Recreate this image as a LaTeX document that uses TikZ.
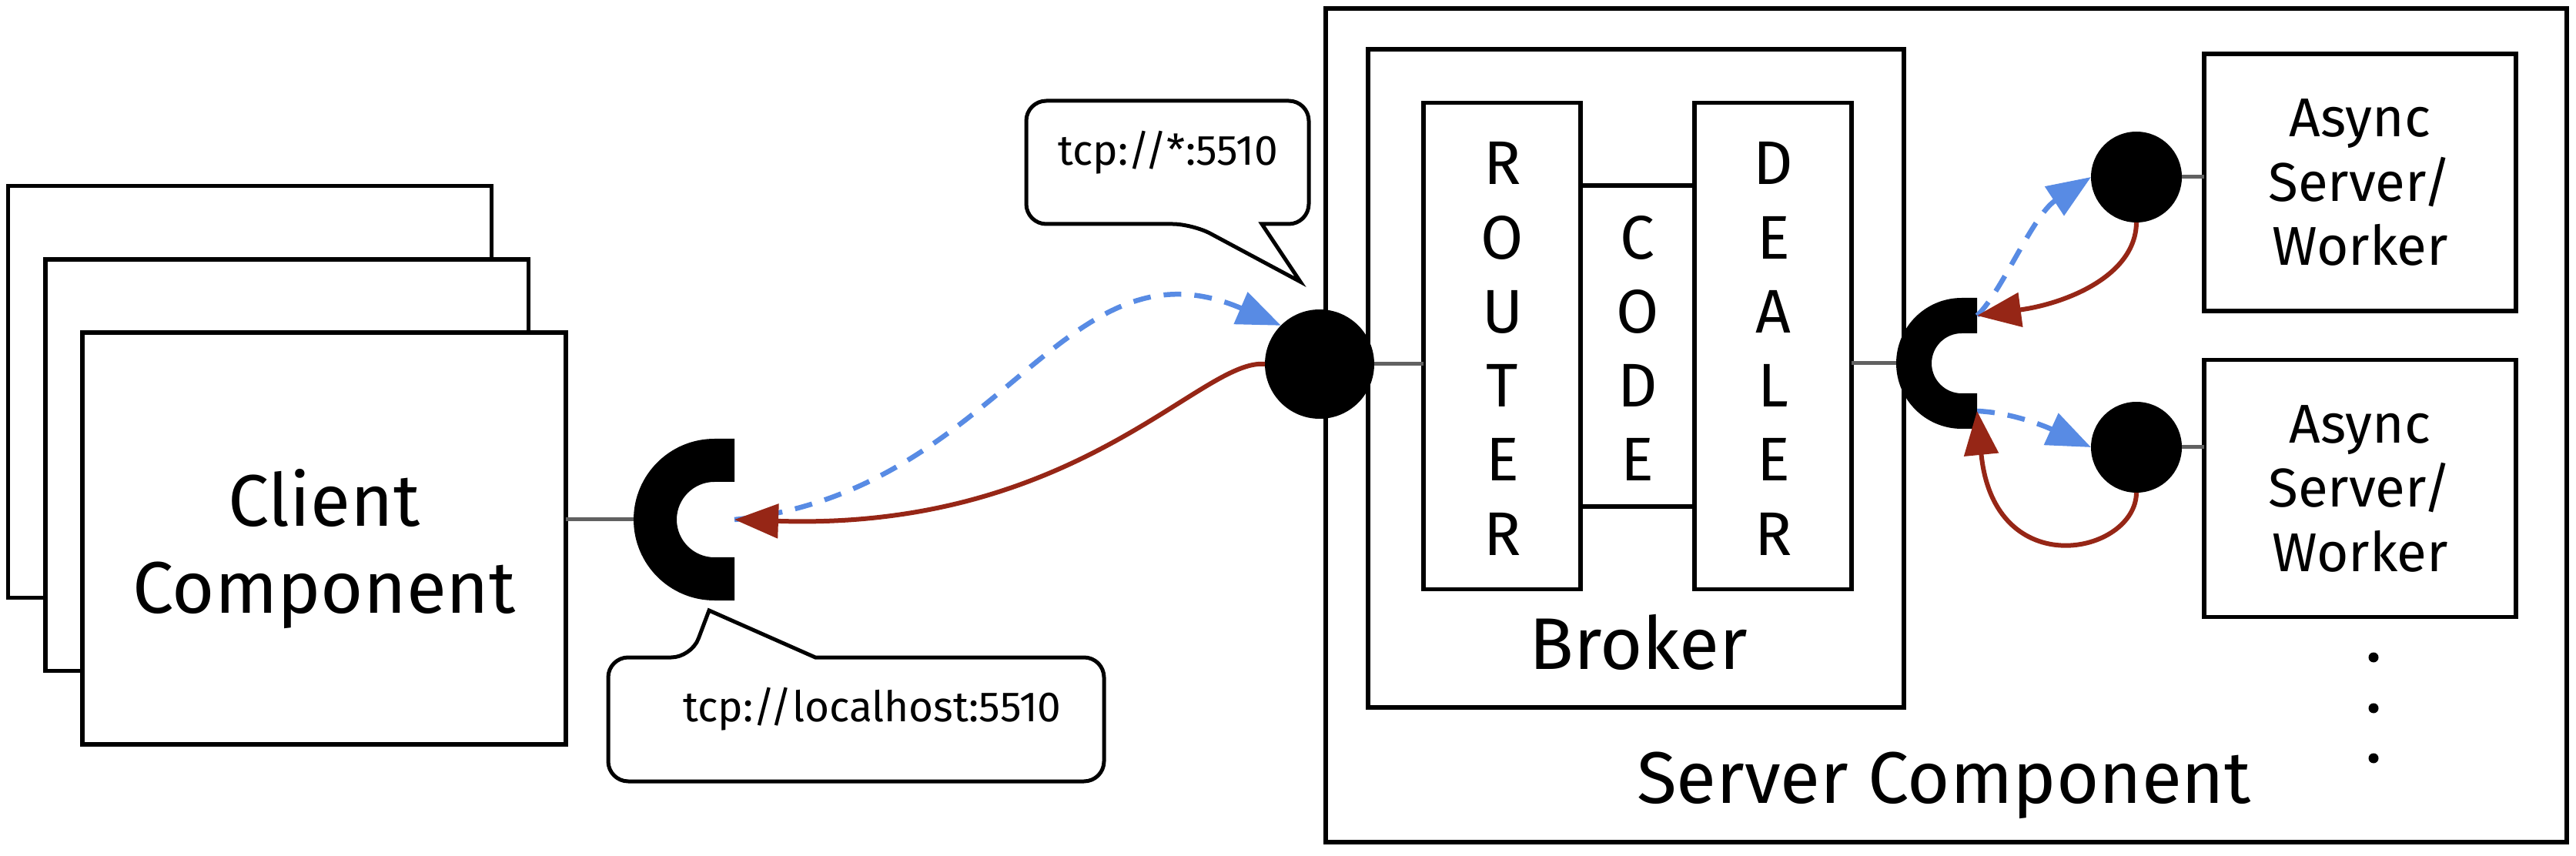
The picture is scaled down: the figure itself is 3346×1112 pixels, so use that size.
\documentclass[tikz,border=0pt]{standalone}
\usepackage{fontspec}
\setmainfont{Fira Sans}
\usetikzlibrary{positioning,arrows.meta}

\definecolor{reqblue}{RGB}{88,139,228}
\definecolor{repred}{RGB}{150,38,22}

\begin{document}
\begin{tikzpicture}[x=0.1pt,y=0.1pt,auto]
    \tikzstyle{every node}=[inner sep=0,outer sep=0]
    \tikzstyle{box}=[draw=black,line width=0.55pt,fill=white,rectangle]
    \tikzstyle{client}=[box,minimum width=62.8pt,minimum height=53.5pt]
    \tikzstyle{worker}=[box,minimum width=40.5pt,minimum height=33.4pt,align=center,font=\fontsize{7.1}{8.35}\selectfont]
    \tikzstyle{queue}=[box,minimum width=20.4pt,minimum height=63.2pt]
    \tikzstyle{letter}=[anchor=base,font=\fontsize{8}{9.6}\selectfont]
    \tikzstyle{bind}=[circle,fill=black,minimum size=11.8pt]
    \tikzstyle{big}=[anchor=base,font=\fontsize{9.5}{11.3}\selectfont]
    \tikzstyle{url}=[anchor=base,font=\fontsize{5.5}{6.6}\selectfont]
    \tikzstyle{wire}=[draw=black!62,line width=0.5pt]
    \tikzstyle{bubble}=[draw=black,line width=0.5pt,fill=white]
    \tikzstyle{req}=[draw=reqblue,line width=0.65pt,dash pattern=on 2.3pt off 1.7pt,-{Triangle[length=5.7pt,width=4.4pt]}]
    \tikzstyle{rep}=[draw=repred,line width=0.6pt,-{Triangle[length=5.7pt,width=4.4pt]}]

    \useasboundingbox (0,0) rectangle (3346,-1112);

    % client side
    \foreach \n in {0,1,2}
        \node[client] (cl\n) at ({324.5+48.25*\n},{-509-95.25*\n}) {};
    \node[big,anchor=center,align=center] (clientlabel) at (421,-713) {Client\\Component};

    % server side
    \node[box,minimum width=161.2pt,minimum height=108.3pt] (server) at (2528,-552.5) {};
    \node[big] (serverlabel) at (2525,-1043) {Server Component};
    \node[box,minimum width=69.6pt,minimum height=85.5pt] (broker) at (2125,-491.5) {};
    \node[big] (brokerlabel) at (2128,-870) {Broker};
    \node[box,minimum width=14.8pt,minimum height=41.7pt] (code) at (2127,-449.5) {};
    \node[queue] (router) [left=0pt of code] {};
    \node[queue] (dealer) [right=0pt of code] {};
    \foreach \l [count=\n from 0] in {R,O,U,T,E,R}
        \node[letter] (rt\n) at (1951.5,{-240-96.2*\n}) {\l};
    \foreach \l [count=\n from 1] in {C,O,D,E}
        \node[letter] (cd\n) at (2127,{-240-96.2*\n}) {\l};
    \foreach \l [count=\n from 0] in {D,E,A,L,E,R}
        \node[letter] (dl\n) at (2303.5,{-240-96.2*\n}) {\l};

    \node[worker] (w1) at (3065.5,-237) {Async\\Server/\\Worker};
    \node[worker] (w2) at (3065.5,-634.5) {Async\\Server/\\Worker};
    \foreach \y in {854,920,985}
        \fill (3083,-\y) circle[radius=6.5];

    % sockets
    \foreach \cx/\cy/\R/\r/\e/\name in {928/-675/105/49/26/lsock,2548/-472/85/39/20/rsock} {
        \fill ({\cx+\e},{\cy+\R}) -- (\cx,{\cy+\R}) arc[start angle=90,end angle=270,radius=\R]
            -- ({\cx+\e},{\cy-\R}) -- ({\cx+\e},{\cy-\r}) -- (\cx,{\cy-\r})
            arc[start angle=270,end angle=90,radius=\r] -- ({\cx+\e},{\cy+\r}) -- cycle;
        \coordinate (\name) at ({\cx-\R},\cy);
        \coordinate (\name-m) at ({\cx+\e},\cy);
        \coordinate (\name-t) at ({\cx+\e},{\cy+(\R+\r)/2});
        \coordinate (\name-b) at ({\cx+\e},{\cy-(\R+\r)/2});
    }
    \node[bind,minimum size=14.2pt] (front) at (1714,-473) {};
    \node[bind] (b1) at (2775,-230) {};
    \node[bind] (b2) at (2775,-581) {};

    \draw[wire] (lsock -| cl2.east) -- (lsock);
    \draw[wire] (front.east) -- (front.east -| router.west);
    \draw[wire] (rsock -| dealer.east) -- (rsock);
    \draw[wire] (b1.east) -- (b1.east -| w1.west);
    \draw[wire] (b2.east) -- (b2.east -| w2.west);

    % addresses
    \draw[bubble] (1516,-131) [rounded corners=2.6pt] -- (1333,-131) -- (1333,-291) -- (1549,-291)
        [sharp corners] -- (1689,-366) -- (1639,-291) [rounded corners=2.6pt] -- (1700,-291) -- (1700,-131) -- cycle;
    \node[url] (bindurl) at (1517,-215) {tcp://*:5510};
    \draw[bubble] (1112,-1015) [rounded corners=2.6pt] -- (790,-1015) -- (790,-854) -- (898,-854)
        [sharp corners] -- (921,-793) -- (1059,-854) [rounded corners=2.6pt] -- (1434,-854) -- (1434,-1015) -- cycle;
    \node[url] (connurl) at (1133,-937) {tcp://localhost:5510};

    % requests and replies
    \draw[req] (lsock-m) .. controls (1300,-640) and (1380,-300) .. (front.135);
    \draw[rep] (front.180) .. controls (1560,-465) and (1400,-690) .. (lsock-m);
    \draw[req] (rsock-t) .. controls (2600,-380) and (2640,-280) .. (b1.180);
    \draw[rep] (b1.270) .. controls (2774,-360) and (2680,-395) .. (rsock-t);
    \draw[req] (rsock-b) .. controls (2620,-536) and (2670,-560) .. (b2.180);
    \draw[rep] (b2.270) .. controls (2774,-720) and (2590,-760) .. (rsock-b);
\end{tikzpicture}
\end{document}
